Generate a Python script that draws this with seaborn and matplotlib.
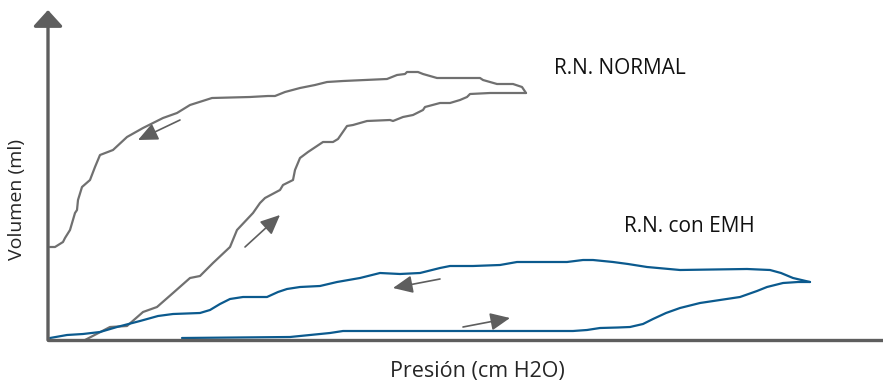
import matplotlib
matplotlib.use("Agg")
import matplotlib.pyplot as plt
import seaborn as sns
import pandas as pd

# Curvas presión-volumen (unidades arbitrarias)
normal_insp_p = [37, 62, 79, 95, 109, 125, 142, 152, 165, 182, 189, 205, 212, 217, 232, 235, 245, 247, 252, 260,
                 275, 285, 290, 299, 305, 319, 342, 345, 355, 365, 375, 377, 392, 402, 412, 419, 422, 442, 475, 478]
normal_insp_v = [0, 13, 14, 28, 33, 47, 62, 64, 77, 93, 110, 127, 137, 142, 150, 155, 160, 170, 182, 188,
                 198, 198, 201, 214, 215, 219, 220, 219, 223, 225, 230, 233, 237, 237, 240, 243, 246, 247, 247, 247]
normal_esp_p = [478, 474, 465, 449, 435, 432, 389, 375, 370, 359, 357, 349, 339, 295, 279, 267, 252, 237, 227,
                220, 202, 164, 142, 129, 115, 107, 95, 79, 65, 52, 47, 42, 34, 30, 29, 27, 22, 17, 15, 7, 2]
normal_esp_v = [247, 253, 256, 256, 260, 262, 262, 266, 268, 268, 266, 265, 261, 259, 258, 255, 252, 248, 244,
                244, 243, 242, 235, 227, 222, 218, 212, 203, 190, 185, 173, 160, 153, 140, 130, 127, 110, 102, 98, 93, 93]

emh_insp_p = [134, 242, 262, 282, 295, 310, 525, 539, 552, 570, 582, 595, 605, 618, 632, 652, 672, 692, 709,
              719, 735, 750, 759, 762]
emh_insp_v = [2, 3, 5, 7, 9, 9, 9, 10, 12, 12.5, 13, 16, 21, 27, 32, 37, 40, 43, 49, 53, 57, 58, 58, 58]
emh_esp_p = [762, 745, 733, 722, 699, 665, 632, 599, 580, 565, 545, 535, 519, 469, 452, 425, 402, 392, 372, 352,
             332, 312, 289, 272, 252, 239, 230, 219, 195, 182, 172, 162, 152, 125, 110, 92, 69, 52, 35, 19, 2]
emh_esp_v = [58, 62, 67, 70, 71, 70.5, 70, 73, 76, 78, 80, 80, 78, 78, 75, 74, 74, 72, 67, 66,
             67, 62, 58, 54, 53, 51, 48, 43, 43, 41, 36, 30, 27, 26, 24, 19, 13, 8, 6, 5, 2]

gray = "#707070"
blue = "#0b5a8e"
dark = "#5e5e5e"

sns.set_style("white")
plt.rcParams["font.family"] = ["Open Sans", "DejaVu Sans"]

fig = plt.figure(figsize=(8.83, 3.85), dpi=100)
ax = fig.add_axes([48 / 883, 45 / 385, 835 / 883, 330 / 385])

curves = [
    (normal_insp_p, normal_insp_v, gray),
    (normal_esp_p, normal_esp_v, gray),
    (emh_insp_p, emh_insp_v, blue),
    (emh_esp_p, emh_esp_v, blue),
]
for p, v, c in curves:
    df = pd.DataFrame({"Presión": p, "Volumen": v})
    sns.lineplot(data=df, x="Presión", y="Volumen", sort=False, color=c, lw=1.6, ax=ax,
                 solid_joinstyle="round", solid_capstyle="round", estimator=None)

ax.set_xlim(0, 835)
ax.set_ylim(0, 330)
ax.set_xticks([])
ax.set_yticks([])
ax.set_xlabel("")
ax.set_ylabel("")
for s in ax.spines.values():
    s.set_visible(False)

# ejes con flecha
ax.plot([0, 1.0], [0, 0], transform=ax.transAxes, color=dark, lw=2.4, clip_on=False, zorder=5)
ax.annotate("", xy=(0, 1.0), xytext=(0, 0), xycoords="axes fraction",
            arrowprops=dict(arrowstyle="-|>,head_length=0.55,head_width=0.5", mutation_scale=18,
                            color=dark, lw=2.4, shrinkA=0, shrinkB=0), zorder=5)

# flechas de dirección
small = [((132, 220), (90, 200)), ((197, 93), (232, 125)), ((392, 61), (345, 52)), ((415, 13), (462, 22))]
for (x0, y0), (x1, y1) in small:
    ax.annotate("", xy=(x1, y1), xytext=(x0, y0),
                arrowprops=dict(arrowstyle="-|>,head_length=1.0,head_width=0.45", mutation_scale=12,
                                color=dark, lw=1.2, shrinkA=0, shrinkB=0))

ax.text(572, 272, "R.N. NORMAL", fontsize=15, color="#111111", ha="center", va="center")
ax.text(641, 114, "R.N. con EMH", fontsize=15, color="#111111", ha="center", va="center")

fig.text(17 / 883, 1 - 200 / 385, "Volumen (ml)", rotation=90, fontsize=14, ha="center", va="center")
fig.text(477 / 883, 1 - 371 / 385, "Presión (cm H2O)", fontsize=15.5, ha="center", va="center")

fig.savefig("out.png", dpi=100)
